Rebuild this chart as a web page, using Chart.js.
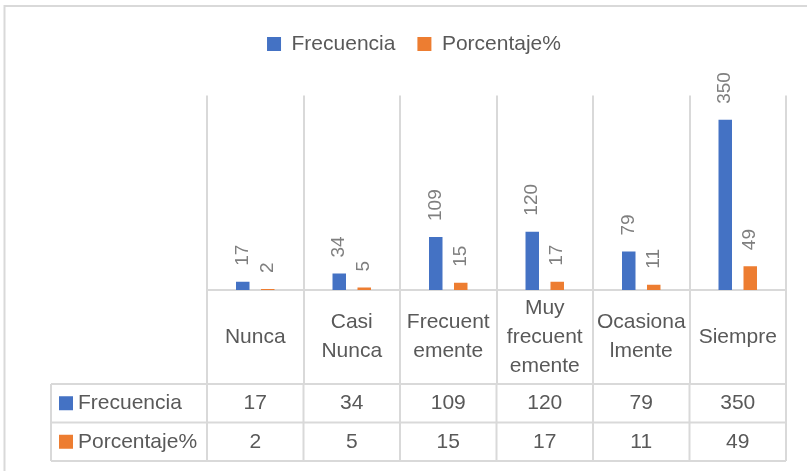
<!DOCTYPE html>
<html>
<head>
<meta charset="utf-8">
<script src="https://cdn.jsdelivr.net/npm/chart.js@4.4.1/dist/chart.umd.min.js"></script>
<style>
  html, body { margin: 0; padding: 0; background: #fff; }
  #wrap { width: 807px; height: 471px; }
</style>
</head>
<body>
<div id="wrap"><canvas id="chart" width="807" height="471"></canvas></div>
<script>
// categories as they wrap in the table cells
const categoryLines = [["Nunca"], ["Casi", "Nunca"], ["Frecuent", "emente"], ["Muy", "frecuent", "emente"], ["Ocasiona", "lmente"], ["Siempre"]];
const seriesNames = ["Frecuencia", "Porcentaje%"];
const frecuencia = [17, 34, 109, 120, 79, 350];
const porcentaje = [2, 5, 15, 17, 11, 49];
const seriesColors = ["#4472C4", "#ED7D31"];

const FONT = '"Liberation Sans", Arial, sans-serif';
const GRID = "#D9D9D9";
const TEXT = "#595959";

// white background + the chart-area frame (top and left edges)
const frame = {
    id: "frame",
    beforeDraw(chart) {
        const ctx = chart.ctx;
        ctx.save();
        ctx.fillStyle = "#fff";
        ctx.fillRect(0, 0, chart.width, chart.height);
        ctx.strokeStyle = GRID;
        ctx.lineWidth = 2;
        ctx.beginPath();
        ctx.moveTo(4.5, chart.height);
        ctx.lineTo(4.5, 6);
        ctx.lineTo(chart.width, 6);
        ctx.stroke();
        ctx.restore();
    }
};

// extra space under the legend
const legendGap = {
    id: "legendGap",
    beforeInit(chart) {
        const fit = chart.legend.fit;
        chart.legend.fit = function () {
            fit.bind(chart.legend)();
            this.height += 31;
        };
    }
};

// rotated value labels above the bars
const barLabels = {
    id: "barLabels",
    afterDatasetsDraw(chart) {
        const ctx = chart.ctx;
        ctx.save();
        ctx.font = "19px " + FONT;
        ctx.fillStyle = "#7F7F7F";
        ctx.textAlign = "left";
        ctx.textBaseline = "middle";
        chart.data.datasets.forEach((ds, di) => {
            chart.getDatasetMeta(di).data.forEach((bar, i) => {
                ctx.save();
                ctx.translate(bar.x, bar.y - 16);
                ctx.rotate(-Math.PI / 2);
                ctx.fillText(String(ds.data[i]), 0, 0);
                ctx.restore();
            });
        });
        ctx.restore();
    }
};

// data table under the plot
const dataTable = {
    id: "dataTable",
    afterDraw(chart) {
        const ctx = chart.ctx;
        const x = chart.scales.x;
        const n = categoryLines.length;
        const edge = i => x.getPixelForValue(i - 0.5);
        const catTop = chart.chartArea.bottom;
        const catBottom = catTop + 94;
        const rowH = 38.5;
        const tableLeft = 51;
        const tableBottom = catBottom + rowH * 2;

        ctx.save();
        ctx.strokeStyle = GRID;
        ctx.lineWidth = 2;
        ctx.beginPath();
        for (let r = 0; r <= 2; r++) {
            const y = catBottom + r * rowH;
            ctx.moveTo(tableLeft, y);
            ctx.lineTo(edge(n), y);
        }
        ctx.moveTo(tableLeft, catBottom);
        ctx.lineTo(tableLeft, tableBottom);
        for (let i = 0; i <= n; i++) {
            ctx.moveTo(edge(i), catBottom);
            ctx.lineTo(edge(i), tableBottom);
        }
        ctx.stroke();

        ctx.font = "21px " + FONT;
        ctx.fillStyle = TEXT;
        ctx.textAlign = "center";
        ctx.textBaseline = "middle";
        const midCat = (catTop + catBottom) / 2;
        categoryLines.forEach((lines, i) => {
            const cx = x.getPixelForValue(i);
            lines.forEach((t, k) => {
                ctx.fillText(t, cx, midCat + (k - (lines.length - 1) / 2) * 29);
            });
        });

        chart.data.datasets.forEach((ds, di) => {
            const cy = catBottom + rowH * di + rowH / 2;
            ctx.fillStyle = ds.backgroundColor;
            ctx.fillRect(59, cy - 7, 14, 14);
            ctx.fillStyle = TEXT;
            ctx.textAlign = "left";
            ctx.fillText(ds.label, 78, cy);
            ctx.textAlign = "center";
            ds.data.forEach((v, i) => {
                ctx.fillText(String(v), x.getPixelForValue(i), cy);
            });
        });
        ctx.restore();
    }
};

new Chart(document.getElementById("chart"), {
    type: "bar",
    data: {
        labels: categoryLines,
        datasets: [{
            label: seriesNames[0],
            data: frecuencia,
            backgroundColor: seriesColors[0],
            categoryPercentage: 0.518,
            barPercentage: 0.54
        }, {
            label: seriesNames[1],
            data: porcentaje,
            backgroundColor: seriesColors[1],
            categoryPercentage: 0.518,
            barPercentage: 0.54
        }]
    },
    options: {
        responsive: false,
        animation: false,
        devicePixelRatio: 1,
        layout: { padding: { top: 11.5, left: 21, right: 0, bottom: 87 } },
        plugins: {
            legend: {
                position: "top",
                labels: {
                    boxWidth: 14,
                    boxHeight: 14,
                    padding: 22,
                    color: TEXT,
                    font: { family: FONT, size: 21 }
                }
            },
            tooltip: { enabled: false }
        },
        scales: {
            x: {
                grid: { color: GRID, lineWidth: 2, offset: true, drawTicks: true, tickLength: 94 },
                border: { color: GRID, width: 2 },
                ticks: { display: false }
            },
            y: {
                min: 0,
                max: 400,
                grid: { display: false },
                border: { display: false },
                ticks: { display: false },
                afterFit(scale) { scale.width = 186; }
            },
            y2: {
                position: "right",
                grid: { display: false },
                border: { display: false },
                ticks: { display: false },
                afterFit(scale) { scale.width = 21; }
            }
        }
    },
    plugins: [frame, legendGap, barLabels, dataTable]
});
</script>
</body>
</html>
